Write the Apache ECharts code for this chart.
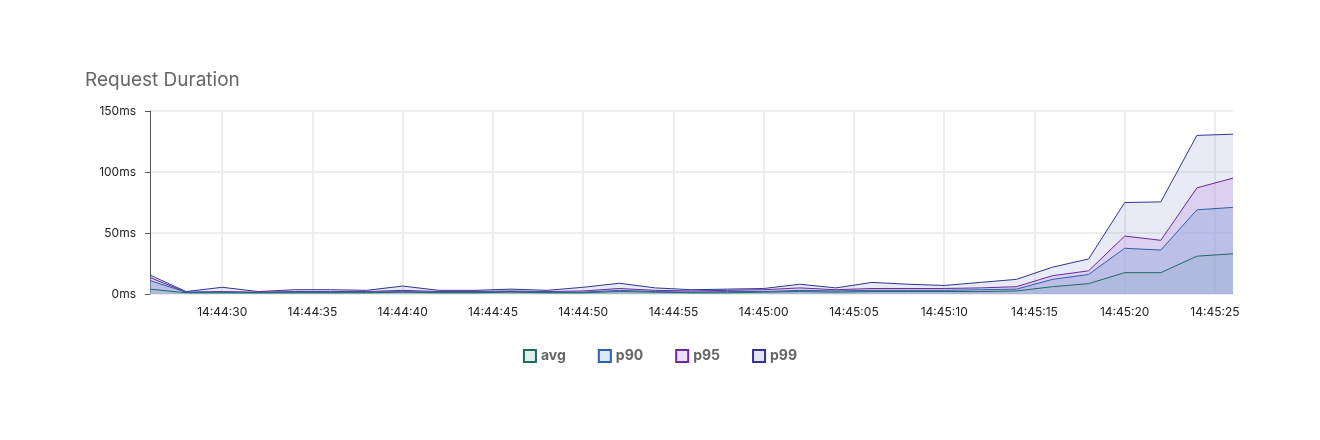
<!DOCTYPE html>
<html><head><meta charset="utf-8">
<script src="https://cdn.jsdelivr.net/npm/echarts@6/dist/echarts.min.js"></script>
<style>html,body{margin:0;background:#fff}#c{width:1320px;height:440px}</style>
</head><body><div id="c"></div>
<script>
// seconds after 14:44:00
const times = [26,28,30,32,34,36,38,40,42,44,46,48,50,52,54,56,58,60,62,64,66,68,70,72,74,76,78,80,82,84,86];
const avg = [4,1,1,1,1,1,1,1.5,1,1,1.5,1,1,2,1.5,1,1,1.5,2,1.5,2,2,2,2,2.5,6,8.5,17.5,17.5,31,33];
const p90 = [11,1.5,1.5,1,1.5,1.5,1.5,2,1.5,1.5,2,1.5,1.5,3,2,1.5,2,2,3,2.5,3,3,3,3.5,4,12,16,37.5,36,69,71];
const p95 = [13.5,1.5,2,1.5,2,2,2,3,2,2,2.5,2,2.5,4.5,3,2.5,3,3.5,5,3.5,4.5,4.5,4.5,5,6,15,19,47.5,44,87,95];
const p99 = [15.5,2,5.5,2,3.5,3.5,3,6.5,3,3,4,3,5.5,8.8,5,3.5,4,4.5,8,5,9.5,8,7,9.5,12,22,28.7,75,75.5,130,131];
const tickVals = [30,35,40,45,50,55,60,65,70,75,80,85];
const yTicks = [0,50,100,150];
const names = ['avg','p90','p95','p99'];
const lineColors = ['#1f6b60','#2f5fa8','#6b2a9c','#2e3590'];
const fillColors = ['rgba(150,175,200,0.35)','rgba(130,160,220,0.35)','rgba(190,150,225,0.3)','rgba(150,160,215,0.22)'];
const legendFill = ['#dff1ee','#dbe8fb','#f0def8','#e2e5f6'];
const vals = [avg,p90,p95,p99];
const fmt = s => { const m = 44 + Math.floor(s/60), ss = s%60; return '14:'+m+':'+String(ss).padStart(2,'0'); };
const chart = echarts.init(document.getElementById('c'));
chart.setOption({
  animation:false,
  textStyle:{fontFamily:'Inter'},
  title:{text:'Request Duration',left:80,top:66,textStyle:{fontSize:19,fontWeight:'normal',color:'#666',fontFamily:'Inter'}},
  grid:{left:150,right:87,top:111,bottom:146},
  legend:{bottom:72,left:'center',itemWidth:12,itemHeight:12,itemGap:32,icon:'rect',
    textStyle:{fontSize:14,fontWeight:'bold',color:'#666'},
    data:names.map((n,i)=>({name:n,itemStyle:{color:legendFill[i],borderColor:lineColors[i],borderWidth:2}}))},
  xAxis:{type:'value',min:times[0],max:times[times.length-1],
    axisLine:{show:false},axisTick:{show:false,customValues:tickVals},
    axisLabel:{customValues:tickVals,formatter:v=>fmt(v),color:'#222',fontSize:12,margin:12},
    splitLine:{show:true,lineStyle:{color:'#eeeeee',width:2}}},
  yAxis:{type:'value',min:0,max:150,interval:50,
    axisLabel:{formatter:v=>v+'ms',color:'#222',fontSize:12,margin:14},
    splitLine:{lineStyle:{color:'#eeeeee',width:2}}},
  series:names.map((n,i)=>({name:n,type:'line',symbol:'none',
    data:times.map((t,j)=>[t,vals[i][j]]),
    lineStyle:{color:lineColors[i],width:1},itemStyle:{color:lineColors[i]},
    areaStyle:{color:fillColors[i],opacity:1},z:10-i}))
});
</script></body></html>
